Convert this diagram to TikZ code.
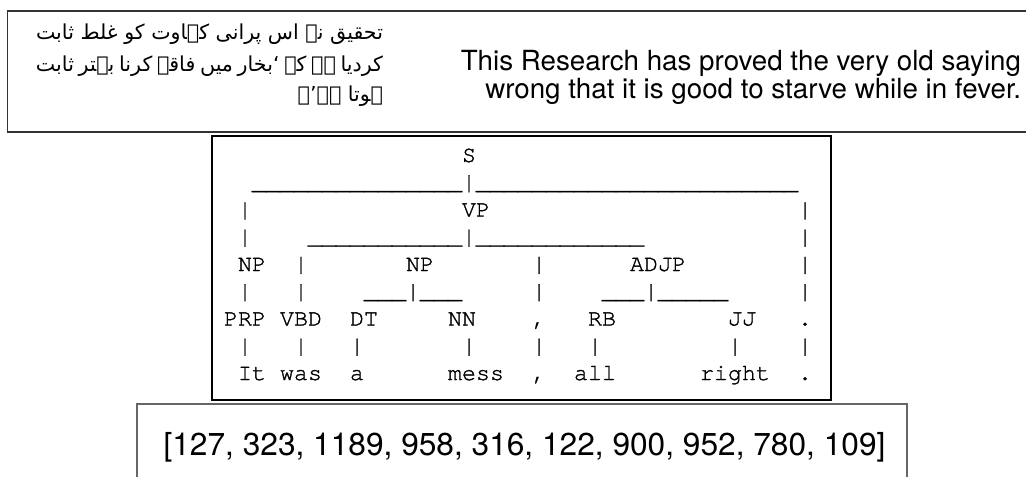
\documentclass[tikz,border=0pt]{standalone}
\usepackage{fontspec}
\setmainfont{TeX Gyre Heros}
\newfontfamily\treefont[FakeBold=1.2]{TeX Gyre Cursor}
\newfontfamily\urdufont[Script=Arabic]{DejaVu Sans}
\TeXXeTstate=1
\ExplSyntaxOn
\cs_new:Npn \underscores #1 { \prg_replicate:nn {#1} { \_ } }
\ExplSyntaxOff
\newlength\urduwd
% one cell of the plain-text parse tree: name, column, row, text
\newcommand\treecell[4]{\node[cell] (#1) at ({224+14*(#2)},{162+27.25*((#3)-1)}) {#4};}
\newcommand\urduA{تحقیق نے اس پرانی کہاوت کو غلط ثابت}
\newcommand\urduB{کردیا ہے کہ ‘بخار میں فاقہ کرنا بہتر ثابت}
\newcommand\urduC{ہوتا ہے’۔}
\begin{document}
% size the Urdu text so that its first line is 347px wide
\settowidth\urduwd{\urdufont\fontsize{10pt}{12pt}\selectfont\beginR\urduA\endR}
\pgfmathsetmacro\urdusize{10*260.25/\urduwd}
\begin{tikzpicture}[x=0.75pt,y=-0.75pt,
  topline/.style={draw=black!80,line width=0.9pt},
  treeline/.style={draw=black,line width=0.9pt},
  idsline/.style={draw=black!60,line width=1pt},
  cell/.style={anchor=base west,inner sep=0pt,outer sep=0pt,
    font=\treefont\fontsize{17.5pt}{20pt}\selectfont},
  entext/.style={anchor=base east,inner sep=0pt,outer sep=0pt,
    font=\fontsize{20.8pt}{25pt}\selectfont},
  urtext/.style={anchor=base east,inner sep=0pt,outer sep=0pt,
    font=\urdufont\fontsize{\urdusize pt}{\urdusize pt}\selectfont},
  numtext/.style={anchor=base,inner sep=0pt,outer sep=0pt,
    font=\fontsize{23.75pt}{28pt}\selectfont}]

\useasboundingbox (0,0) rectangle (1026,476);
\fill[white] (0,0) rectangle (1026,476);
\clip (0,0) rectangle (1026,476);

% frames
\draw[topline] (7.5,11) rectangle (1030,132);
\draw[treeline] (212,136) rectangle (831,400);
\draw[idsline] (137,404) rectangle (907,480);

% Urdu sentence, justified to the width of its first line
\node[urtext] (ur1) at (383,39.3) {\beginR\urduA\endR};
\node[urtext] (ur2) at (383,71.7) {\hbox to 260.25pt{\spaceskip=0.3em plus 1fil minus 0.15em\relax\beginR\urduB\endR}};
\node[urtext] (ur3) at (383,101.7) {\beginR\urduC\endR};

% English sentence
\node[entext] (en1) at (1021,70.5) {This Research has proved the very old saying};
\node[entext] (en2) at (1021,98.5) {wrong that it is good to starve while in fever.};

% parse tree
\treecell{S}{17}{1}{S}
\treecell{r2}{2}{2}{\underscores{15}|\underscores{23}}
\treecell{b3a}{1}{3}{|}
\treecell{VP}{17}{3}{VP}
\treecell{b3b}{41}{3}{|}
\treecell{b4a}{1}{4}{|}
\treecell{r4}{6}{4}{\underscores{11}|\underscores{12}}
\treecell{b4b}{41}{4}{|}
\treecell{NPa}{1}{5}{NP}
\treecell{b5a}{5}{5}{|}
\treecell{NPb}{13}{5}{NP}
\treecell{b5b}{22}{5}{|}
\treecell{ADJP}{29}{5}{ADJP}
\treecell{b5c}{41}{5}{|}
\treecell{b6a}{1}{6}{|}
\treecell{b6b}{5}{6}{|}
\treecell{r6a}{10}{6}{\underscores{3}|\underscores{3}}
\treecell{b6c}{22}{6}{|}
\treecell{r6b}{27}{6}{\underscores{3}|\underscores{5}}
\treecell{b6d}{41}{6}{|}
\treecell{PRP}{0}{7}{PRP}
\treecell{VBD}{4}{7}{VBD}
\treecell{DT}{9}{7}{DT}
\treecell{NN}{16}{7}{NN}
\treecell{tcomma}{22}{7}{,}
\treecell{RB}{26}{7}{RB}
\treecell{JJ}{36}{7}{JJ}
\treecell{tdot}{41}{7}{.}
\foreach \c [count=\k] in {1,5,9,17,22,26,36,41} {\treecell{b8-\k}{\c}{8}{|}}
\treecell{wIt}{1}{9}{It}
\treecell{wwas}{4}{9}{was}
\treecell{wa}{9}{9}{a}
\treecell{wmess}{16}{9}{mess}
\treecell{wcomma}{22}{9}{,}
\treecell{wall}{25}{9}{all}
\treecell{wright}{34}{9}{right}
\treecell{wdot}{41}{9}{.}

% token ids
\node[numtext] (ids) at (524.5,455) {[127, 323, 1189, 958, 316, 122, 900, 952, 780, 109]};
\end{tikzpicture}
\end{document}
